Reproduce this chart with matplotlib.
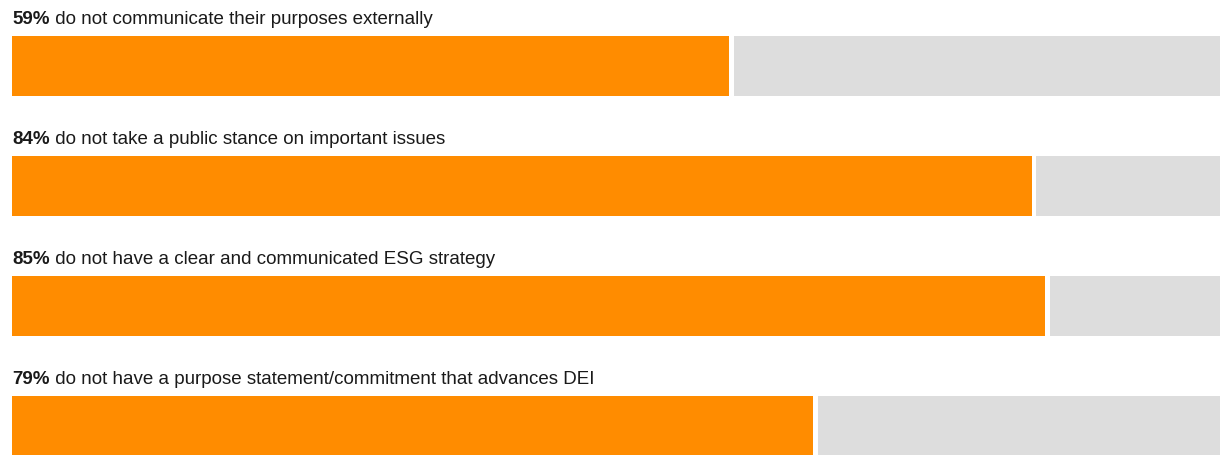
import matplotlib.pyplot as plt

plt.rcParams['font.family'] = ['Liberation Sans', 'DejaVu Sans']

pcts = ['59%', '84%', '85%', '79%']
labels = ['do not communicate their purposes externally',
          'do not take a public stance on important issues',
          'do not have a clear and communicated ESG strategy',
          'do not have a purpose statement/commitment that advances DEI']
# bar lengths as drawn in the picture (share of full width)
values = [59.35, 84.4, 85.5, 66.3]

orange = '#ff8c00'
grey = '#dddddd'
gap = 0.4

fig = plt.figure(figsize=(12.2, 4.55), dpi=100)
ax = fig.add_axes([12 / 1220, 0, 1208 / 1220, 1])
ax.set_xlim(0, 100)
ax.set_ylim(455, 0)
ax.axis('off')

for i, v in enumerate(values):
    y0 = 36 + 120 * i
    ax.barh(y0 + 30, v, height=60, left=0, color=orange)
    ax.barh(y0 + 30, 100 - v - gap, height=60, left=v + gap, color=grey)
    t = ax.text(0, y0 - 12, pcts[i], fontsize=13.5, fontweight='bold',
                color='#1a1a1a', va='baseline', ha='left')
    ax.annotate(' ' + labels[i], xy=(1, 0), xycoords=t, va='bottom',
                ha='left', fontsize=13.5, color='#1a1a1a')

fig.savefig('out.png', dpi=100)
